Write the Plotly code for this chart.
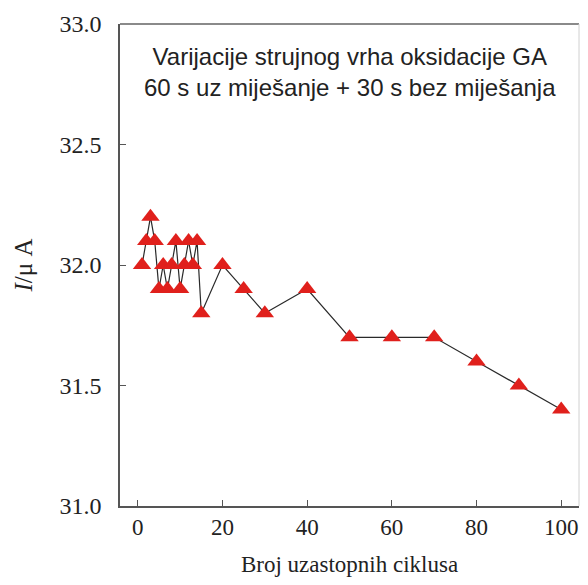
import plotly.graph_objects as go

cycles = [1, 2, 3, 4, 5, 6, 7, 8, 9, 10, 11, 12, 13, 14, 15, 20, 25, 30, 40, 50, 60, 70, 80, 90, 100]
current = [32.0, 32.1, 32.2, 32.1, 31.9, 32.0, 31.9, 32.0, 32.1, 31.9, 32.0, 32.1, 32.0, 32.1, 31.8,
           32.0, 31.9, 31.8, 31.9, 31.7, 31.7, 31.7, 31.6, 31.5, 31.4]
x_ticks = [0, 20, 40, 60, 80, 100]
y_ticks = [31.0, 31.5, 32.0, 32.5, 33.0]

serif = "Liberation Serif"
sans = "Liberation Sans"

fig = go.Figure()
fig.add_trace(go.Scatter(
    x=cycles, y=current,
    mode="lines+markers",
    line={"color": "#2a2a2a", "width": 1.2},
    marker={"symbol": "triangle-up", "size": 16, "color": "#e0201c",
            "line": {"width": 0}},
    showlegend=False,
))

ax = {
    "showgrid": False,
    "zeroline": False,
    "showline": True,
    "linecolor": "#555555",
    "linewidth": 1.5,
    "ticks": "inside",
    "ticklen": 6,
    "tickcolor": "#555555",
}

# page body adds an 8px margin, so the figure is sized to fit the window without scrollbars
fig.update_layout(
    width=572, height=569,
    margin={"l": 112, "r": 1, "t": 16, "b": 71},
    plot_bgcolor="white",
    paper_bgcolor="white",
    font={"family": serif, "size": 24, "color": "#222222"},
    xaxis={**ax, "range": [-4.2, 104.2], "tickvals": x_ticks},
    yaxis={**ax, "range": [31.0, 33.0], "tickvals": y_ticks, "tickformat": ".1f"},
    shapes=[
        {"type": "line", "xref": "paper", "yref": "paper", "x0": 0, "x1": 1, "y0": 1, "y1": 1,
         "line": {"color": "#8a8a8a", "width": 2}},
        {"type": "line", "xref": "paper", "yref": "paper", "x0": 1, "x1": 1, "y0": 0, "y1": 1,
         "line": {"color": "#d0d0d0", "width": 1}},
    ],
    annotations=[{
        "text": "Varijacije strujnog vrha oksidacije GA<br>60 s uz miješanje + 30 s bez miješanja",
        "xref": "paper", "yref": "paper", "x": 0.5, "y": 0.965,
        "xanchor": "center", "yanchor": "top", "showarrow": False,
        "font": {"family": sans, "size": 24, "color": "#222222"},
        "align": "center",
    }],
)
fig.update_xaxes(tickfont={"family": serif, "size": 23}, ticklabelstandoff=0,
                 title={"text": "Broj uzastopnih ciklusa", "standoff": 18,
                        "font": {"family": serif, "size": 23}})
fig.update_yaxes(tickfont={"family": serif, "size": 24}, ticklabelstandoff=12,
                 title={"text": "<i>I</i>/μ A", "standoff": 20,
                        "font": {"family": serif, "size": 25}})

fig.write_html("out.html")
